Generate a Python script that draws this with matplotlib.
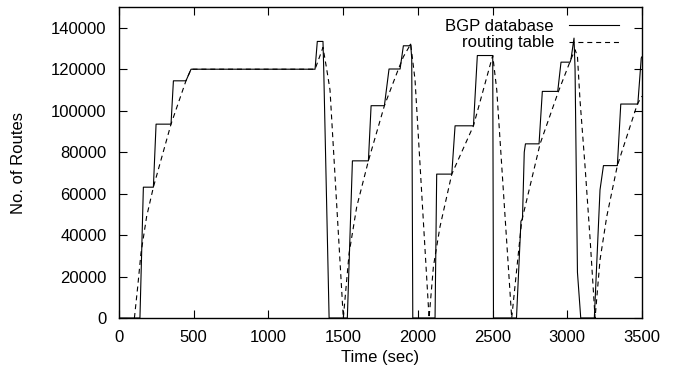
import numpy as np
import matplotlib.pyplot as plt

plt.rcParams['font.family'] = ['Liberation Sans', 'DejaVu Sans']

# BGP database (solid)
t_bgp = [0, 140, 163, 230, 248, 348, 364, 448, 482, 1312, 1327, 1365, 1370, 1406,
         1528, 1562, 1669, 1687, 1776, 1807, 1881, 1903, 1943, 1952, 1959, 1966,
         2115, 2126, 2227, 2249, 2372, 2398, 2501, 2506,
         2660, 2690, 2700, 2712, 2720, 2811, 2833, 2936, 2958, 3019, 3025, 3045,
         3052, 3068, 3090,
         3181, 3219, 3242, 3335, 3358, 3472, 3495, 3500]
y_bgp = [0, 0, 63100, 63100, 93500, 93500, 114400, 114400, 120000, 120000, 133400, 133400, 120000, 0,
         0, 75800, 75800, 102400, 102400, 120100, 120100, 131300, 131300, 132100, 125000, 0,
         0, 69400, 69400, 92700, 92700, 126600, 126600, 0,
         0, 46800, 47500, 80000, 84000, 84000, 109300, 109300, 123400, 123400, 124900, 135000,
         120000, 22000, 0,
         0, 61800, 73500, 73500, 103200, 103200, 125400, 126000]

# routing table (dashed)
t_rt = [103, 125, 147, 185, 230, 348, 448, 482, 1312, 1365, 1390, 1412, 1501,
        1540, 1591, 1669, 1776, 1870, 1903, 1952, 1981, 2075,
        2104, 2148, 2227, 2372, 2501, 2528, 2628,
        2695, 2818, 2941, 3025, 3052, 3068, 3085, 3119, 3153, 3186,
        3219, 3264, 3335, 3469, 3500]
y_rt = [0, 15000, 31300, 49000, 63100, 93500, 114400, 120000, 120000, 130500, 120000, 110000, 0,
        31300, 53700, 75800, 102400, 120100, 126000, 132100, 114900, 0,
        24800, 44000, 69400, 92700, 126600, 110000, 0,
        46800, 84000, 109300, 124900, 129400, 126200, 105200, 73000, 37700, 0,
        28000, 48900, 73500, 103200, 107000]

fig = plt.figure(figsize=(6.77, 3.77), dpi=100)
ax = fig.add_axes([0.1758, 0.1565, 0.7725, 0.8249])

ax.plot(t_bgp, y_bgp, color='black', lw=0.8, label='BGP database')
ax.plot(t_rt, y_rt, color='black', lw=0.8, dashes=(4.5, 3.5), label='routing table')

ax.set_xlim(0, 3500)
ax.set_ylim(0, 150000)
ax.set_xticks(np.arange(0, 3501, 500))
ax.set_yticks(np.arange(0, 140001, 20000))
ax.tick_params(direction='in', length=6, width=0.8, top=True, right=True,
               labelsize=12)
ax.tick_params(axis='x', pad=9)
ax.tick_params(axis='y', pad=9)
for s in ax.spines.values():
    s.set_linewidth(1.0)

ax.set_xlabel('Time (sec)', fontsize=12, labelpad=3)
ax.set_ylabel('No. of Routes', fontsize=12, labelpad=18)

ax.legend(loc='upper right', bbox_to_anchor=(0.956, 0.962), frameon=False,
          markerfirst=False, fontsize=12, handlelength=3.0, handletextpad=0.9,
          borderpad=0, borderaxespad=0, labelspacing=0.1)

fig.savefig('out.png', dpi=100)
